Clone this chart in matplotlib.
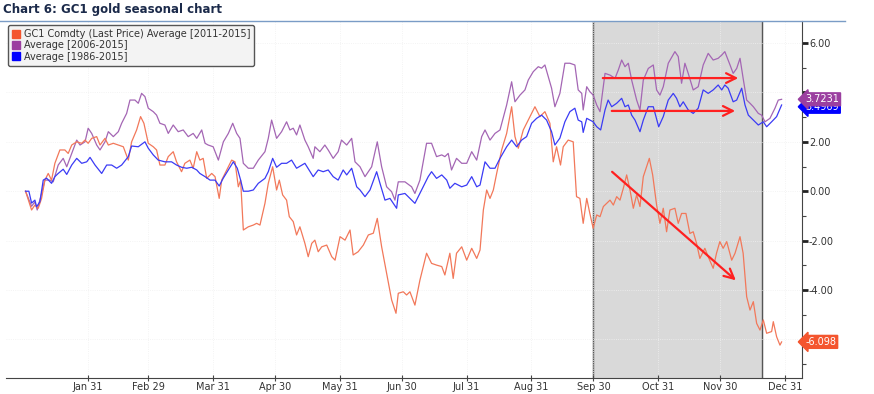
import matplotlib
matplotlib.use('Agg')
import matplotlib.pyplot as plt
from matplotlib.patches import Patch
from matplotlib.lines import Line2D

# --- data (day of year, 0 = Jan 1, leap year) ---
gc1_days = [0, 2.9, 4.5, 6.1, 7.7, 9.3, 10.9, 12.5, 14.1, 16.5, 18.9, 20.5, 22.2, 24.6, 27.0, 28.6, 30.1,
            31.8, 34.2, 35.8, 38.2, 39.8, 42.2, 44.6, 47.0, 49.4, 51.0, 53.4, 55.3, 56.9, 59.0, 61.4, 63.0,
            64.6, 67.0, 68.6, 71.0, 72.6, 75.0, 76.6, 79.0, 80.6, 82.3, 83.8, 85.4, 87.1, 89.5, 91.1, 93.1,
            94.3, 96.7, 99.1, 100.7, 102.3, 103.4, 104.7, 107.1, 109.5, 111.1, 112.7, 115.1, 116.7, 118.8,
            120.7, 122.0, 123.6, 125.5, 126.8, 128.7, 130.3, 131.9, 134.3, 135.9, 137.6, 139.1, 140.7, 142.4,
            144.8, 147.2, 148.8, 151.2, 153.6, 156.0, 157.5, 159.9, 162.4, 164.8, 167.2, 169.1, 171.2, 173.6,
            176.0, 178.1, 179.2, 181.6, 183.2, 184.8, 187.2, 189.6, 192.8, 195.2, 197.6, 200.1, 201.6, 204.0,
            205.6, 207.2, 209.7, 212.1, 214.5, 216.9, 218.5, 220.1, 221.7, 223.3, 224.9, 226.5, 228.9, 231.3,
            233.7, 235.3, 236.9, 239.3, 241.7, 244.9, 247.3, 249.7, 252.1, 253.7, 255.3, 257.2, 258.5, 260.9,
            263.3, 264.9, 266.5, 268.1, 269.8, 271.3, 272.9, 274.6, 276.2, 277.8, 279.4, 281.0, 282.6, 284.2,
            285.8, 287.4, 289.0, 290.6, 292.2, 293.8, 295.4, 297.0, 299.9, 301.5, 303.4, 305.0, 306.6, 308.2,
            309.8, 312.2, 313.8, 315.4, 317.5, 319.4, 321.0, 322.6, 324.2, 326.6, 328.2, 330.6, 332.2, 333.8,
            335.4, 337.1, 339.5, 341.1, 343.5, 345.0, 346.7, 348.3, 349.9, 351.5, 353.1, 354.7, 356.3, 358.7,
            359.5, 361.1, 362.7, 363.5]
gc1_vals = [0.00, -0.76, -0.56, -0.69, -0.29, 0.45, 0.72, 0.45, 1.13, 1.67, 1.67, 1.53, 1.87, 2.00, 1.94, 2.07,
            1.94, 2.14, 2.21, 1.87, 2.14, 1.87, 1.94, 1.87, 1.80, 1.26, 2.00, 2.48, 3.02, 2.75, 1.94, 1.80, 1.67,
            1.06, 1.06, 1.40, 1.60, 1.19, 0.79, 1.13, 1.26, 0.93, 1.60, 1.26, 1.33, 0.52, 0.72, 0.59, -0.29,
            0.45, 0.86, 1.26, 1.19, 0.18, 0.45, -1.57, -1.44, -1.37, -1.30, -1.37, -0.49, 0.32, 0.99,
            0.05, 0.45, -0.15, -0.36, -1.03, -1.23, -1.77, -1.44, -2.11, -2.65, -2.11, -1.98, -2.45, -2.25,
            -2.18, -2.65, -2.79, -1.84, -1.98, -1.57, -2.58, -2.45, -2.18, -1.77, -1.70, -1.10, -2.25, -3.32,
            -4.40, -4.94, -4.13, -4.07, -4.20, -4.07, -4.61, -3.60, -2.51, -2.92, -2.99, -3.05, -3.39, -2.51,
            -3.53, -2.51, -2.25, -2.79, -2.31, -2.72, -2.38, -0.76, 0.05, -0.29, 0.05, 0.72, 1.67, 2.34,
            3.42, 2.21, 1.74, 2.48, 2.88, 3.42, 3.02, 3.22, 2.75, 1.19, 1.80, 1.06, 1.80, 2.07,
            2.00, -0.22, -0.29, -1.30, -0.29, -0.90, -1.50, -0.96, -1.03, -0.62, -0.49, -0.36, -0.56, -0.22,
            -0.36, 0.12, 0.66, 0.05, -0.69, -0.15, -0.62, 0.59, 1.33, 0.66, -0.56, -1.30, -0.69, -1.64,
            -0.76, -0.69, -1.30, -0.90, -0.90, -1.71, -1.64, -2.11, -2.72, -2.31, -2.65, -3.12, -2.51, -2.04,
            -2.31, -2.04, -2.79, -2.51, -1.84, -2.51, -4.27, -4.81, -4.47, -5.35, -5.62, -5.21, -5.75, -5.68,
            -5.28, -5.89, -6.23, -6.10]

avg10_days = [0, 2.9, 4.5, 5.6, 7.7, 9.3, 11.7, 13.3, 15.7, 18.1, 19.8, 22.2, 24.6, 26.2, 28.6, 30.1, 31.8,
              34.2, 35.8, 38.2, 39.8, 42.2, 44.6, 46.2, 48.6, 50.2, 52.6, 54.2, 55.8, 57.4, 59.0, 61.4, 63.0,
              64.6, 67.0, 68.6, 71.0, 73.4, 75.8, 78.2, 80.6, 82.3, 84.7, 86.3, 87.8, 90.2, 92.7, 95.1, 97.5,
              99.6, 101.5, 103.1, 104.7, 107.1, 109.5, 111.9, 115.1, 116.7, 118.3, 120.7, 123.1, 125.5, 127.1,
              128.7, 130.3, 131.9, 134.3, 135.9, 138.3, 139.1, 141.5, 143.9, 145.5, 147.9, 150.3, 151.9, 154.4,
              156.8, 158.4, 160.8, 163.2, 166.4, 169.1, 171.2, 173.6, 176.0, 177.6, 179.2, 182.4, 185.6, 187.2,
              189.6, 192.8, 195.2, 197.6, 200.1, 201.6, 203.2, 204.8, 207.2, 209.7, 212.1, 214.5, 216.9, 219.3,
              220.9, 223.3, 225.7, 228.1, 231.3, 233.7, 235.3, 237.7, 240.1, 241.7, 244.1, 246.5, 248.1, 249.7,
              251.3, 252.9, 254.5, 256.9, 259.3, 261.7, 264.1, 265.7, 267.4, 268.1, 269.8, 271.3, 272.9, 274.6,
              276.2, 278.6, 281.0, 283.4, 285.0, 286.6, 288.2, 289.8, 291.4, 293.8, 295.4, 297.0, 299.4, 301.8,
              303.4, 305.0, 306.6, 309.0, 312.2, 313.8, 315.4, 317.0, 318.6, 321.0, 323.4, 325.8, 328.2, 330.6,
              333.0, 334.7, 336.2, 338.7, 340.2, 341.9, 343.5, 345.0, 346.7, 348.3, 349.9, 352.3, 353.9, 355.5,
              357.9, 360.3, 361.9, 363.5]
avg10_vals = [0.00, -0.61, -0.43, -0.76, -0.09, 0.45, 0.45, 0.38, 1.06, 1.33, 0.99, 1.53, 2.07, 1.87, 2.00, 2.55,
              2.34, 1.87, 1.67, 2.00, 2.41, 2.21, 2.41, 2.75, 3.15, 3.69, 3.69, 3.56, 3.96, 3.83, 3.36, 3.22, 3.08,
              2.75, 2.68, 2.34, 2.68, 2.41, 2.48, 2.21, 2.34, 2.14, 2.48, 1.94, 1.87, 1.80, 1.26, 2.00, 2.34,
              2.75, 2.34, 2.14, 1.13, 0.93, 0.93, 1.26, 1.60, 2.14, 2.88, 2.14, 2.41, 2.81, 2.48,
              2.55, 2.28, 2.68, 2.07, 1.80, 1.33, 1.80, 1.60, 1.87, 1.67, 1.33, 1.60, 2.07, 1.87,
              2.14, 1.19, 0.99, 0.59, 0.99, 2.00, 0.99, 0.18, -0.02, -0.36, 0.38, 0.38, 0.18, -0.09,
              0.45, 1.94, 1.94, 1.40, 1.47, 1.40, 1.53, 0.86, 1.33, 1.13, 1.13, 1.60, 1.26, 2.21,
              2.48, 2.07, 2.34, 2.48, 3.49, 4.43, 3.62, 3.89, 4.10, 4.50, 4.84, 5.04, 4.98, 5.11,
              4.64, 4.17, 3.42, 3.96, 5.18, 5.18, 5.11, 4.10, 3.96, 3.29, 4.23, 4.03, 3.89, 3.49,
              3.22, 4.77, 4.70, 4.57, 4.91, 5.31, 5.04, 5.18, 4.50, 3.69, 3.29, 4.50, 4.97, 5.11,
              4.10, 3.89, 4.23, 5.18, 5.65, 5.45, 4.37, 5.18, 4.77, 4.10, 4.23, 5.11, 5.58, 5.31,
              5.38, 5.51, 5.65, 5.11, 4.77, 4.97, 5.38, 4.57, 3.69, 3.56, 3.42, 3.15, 3.08, 2.81,
              2.95, 3.36, 3.69, 3.72]

avg30_days = [0, 1.6, 2.9, 4.5, 5.3, 6.9, 8.5, 10.1, 12.5, 14.1, 15.7, 18.1, 19.8, 22.2, 24.6, 27.0, 29.4,
              31.0, 33.4, 36.6, 39.0, 41.4, 43.8, 46.2, 49.4, 51.0, 54.2, 57.4, 59.0, 61.4, 63.8, 67.0, 70.2,
              72.6, 75.0, 77.5, 79.9, 82.3, 83.8, 86.3, 88.7, 91.1, 93.1, 95.0, 97.5, 99.9, 101.8, 103.4, 104.7,
              107.1, 109.5, 111.9, 115.1, 116.7, 118.8, 120.7, 123.1, 125.5, 127.9, 130.3, 134.3, 138.3, 140.7,
              143.1, 145.5, 147.9, 150.3, 152.7, 154.4, 156.8, 159.2, 160.8, 163.2, 165.6, 168.8, 170.4, 172.8,
              175.2, 178.4, 179.2, 182.4, 184.8, 187.2, 190.4, 193.6, 195.2, 197.6, 200.1, 202.5, 204.0, 206.4,
              209.7, 212.1, 214.5, 216.9, 218.5, 220.9, 223.3, 225.7, 228.1, 231.3, 233.7, 236.1, 238.5, 240.9,
              243.3, 245.7, 248.1, 250.5, 252.9, 254.5, 256.9, 259.3, 261.7, 264.1, 265.7, 267.4, 268.1, 269.8,
              272.9, 274.6, 276.5, 278.6, 280.1, 281.8, 284.2, 286.6, 288.2, 289.8, 291.4, 293.0, 295.4, 297.0,
              299.4, 301.8, 304.4, 306.6, 309.0, 311.4, 313.0, 314.6, 316.2, 318.6, 321.0, 323.4, 325.8, 328.2,
              330.6, 333.0, 334.7, 336.2, 337.8, 340.2, 341.9, 344.3, 345.9, 347.5, 349.9, 352.3, 354.7, 356.3,
              358.7, 361.1, 363.5]
avg30_vals = [0.00, 0.00, -0.48, -0.36, -0.63, -0.43, 0.45, 0.53, 0.32, 0.59, 0.72, 0.89, 0.68, 1.06, 1.33, 1.13,
              1.19, 1.37, 1.06, 0.72, 1.06, 1.06, 0.93, 1.06, 1.40, 1.83, 1.80, 2.00, 1.74, 1.47, 1.26, 1.19, 1.19,
              1.06, 0.97, 0.93, 0.97, 0.86, 0.72, 0.59, 0.45, 0.45, 0.21, 0.52, 0.86, 1.19, 0.93, 0.45, 0.00,
              0.00, 0.05, 0.32, 0.52, 0.79, 1.33, 0.97, 1.13, 1.13, 1.26, 0.93, 1.13, 0.59, 0.86,
              0.79, 0.86, 0.59, 0.45, 0.86, 0.66, 0.93, 0.18, 0.05, -0.22, 0.05, 0.79, 0.32, -0.36,
              -0.29, -0.69, -0.15, -0.09, -0.29, -0.49, 0.05, 0.59, 0.79, 0.52, 0.66, 0.45, 0.12, 0.32,
              0.18, 0.25, 0.59, 0.18, 0.25, 1.19, 0.93, 0.93, 1.33, 1.80, 2.07, 1.80, 2.07, 2.21,
              2.75, 2.95, 3.08, 2.88, 2.41, 1.87, 2.15, 2.81, 3.22, 3.36, 2.88, 2.81, 2.38, 2.95,
              2.81, 2.61, 2.48, 3.29, 3.69, 3.42, 3.56, 3.76, 3.42, 3.49, 3.08, 2.88, 2.41, 2.88,
              3.42, 3.42, 2.61, 3.02, 3.69, 3.96, 3.76, 3.42, 3.62, 3.29, 3.15, 3.36, 4.10, 3.96,
              4.10, 4.30, 4.10, 4.30, 4.17, 3.62, 3.69, 4.17, 3.49, 3.08, 2.88, 2.68, 2.81, 2.61,
              2.81, 3.02, 3.49]

month_ticks = [30, 59, 90, 120, 151, 181, 212, 243, 273, 304, 334, 365]
month_labels = ['Jan 31', 'Feb 29', 'Mar 31', 'Apr 30', 'May 31', 'Jun 30',
                'Jul 31', 'Aug 31', 'Sep 30', 'Oct 31', 'Nov 30', 'Dec 31']

y_ticks = [-6, -4, -2, 0, 2, 4, 6]
# -6.00 and 4.00 sit under the last-value tags in the original
y_labels = ['', '-4.00', '-2.00', '0.00', '2.00', '', '6.00']

shade_start, shade_end = 273, 354

series_names = ['GC1 Comdty (Last Price) Average [2011-2015]', 'Average [2006-2015]', 'Average [1986-2015]']
line_colors = ['#f2785a', '#a466b4', '#3b3bf5']
box_colors = ['#f4552e', '#9b3fa0', '#0000ff']
last_labels = ['-6.098', '3.7231', '3.4969']
tag_pos = [-6.098, 3.72, 3.42]

plt.rcParams['font.family'] = ['DejaVu Sans']

fig = plt.figure(figsize=(8.74, 3.94), dpi=100)
ax = fig.add_axes([6 / 874, 16 / 394, 796 / 874, 357 / 394])

# shaded period
ax.axvspan(shade_start, shade_end, color='#d9d9d9', zorder=0)
ax.axvline(shade_start, color='#555555', lw=1, zorder=1)
ax.axvline(shade_end, color='#555555', lw=1, zorder=1)

ax.plot(avg10_days, avg10_vals, color=line_colors[1], lw=0.9, zorder=3)
ax.plot(avg30_days, avg30_vals, color=line_colors[2], lw=0.9, zorder=4)
ax.plot(gc1_days, gc1_vals, color=line_colors[0], lw=0.9, zorder=3)

ax.set_xlim(-9.4, 373.3)
ax.set_ylim(-7.56, 6.89)

# red trend arrows
arrow_kw = dict(arrowstyle='->,head_length=0.7,head_width=0.35', color='#ff2020', lw=1.6)
ax.annotate('', xy=(344, 4.58), xytext=(276.2, 4.58), arrowprops=arrow_kw, zorder=6)
ax.annotate('', xy=(342.5, 3.25), xytext=(280.5, 3.25), arrowprops=arrow_kw, zorder=6)
ax.annotate('', xy=(342.5, -3.68), xytext=(281, 0.86), arrowprops=arrow_kw, zorder=6)

# axes styling
for side in ['top', 'left']:
    ax.spines[side].set_visible(False)
ax.spines['bottom'].set_color('#444444')
ax.spines['right'].set_color('#444444')

ax.set_xticks(month_ticks)
ax.set_xticklabels(month_labels)
ax.tick_params(axis='x', direction='inout', length=4, width=0.8, colors='#444444',
               labelsize=7, labelcolor='#333333', pad=1)

ax.yaxis.tick_right()
ax.set_yticks(y_ticks)
ax.set_yticks([-7, -5, -3, -1, 1, 3, 5], minor=True)
ax.set_yticklabels(y_labels)
ax.tick_params(axis='y', which='major', direction='out', length=4, width=2, colors='#222222',
               labelsize=7, labelcolor='#333333', pad=1)
ax.tick_params(axis='y', which='minor', direction='out', length=3, width=0.8, colors='#444444')

ax.grid(True, which='major', color='#f0f0f0', lw=0.6, ls=':')

# last value tags on the right; purple drawn last so it covers most of the blue one
tag_z = {0: 10, 2: 11, 1: 12}
for i in [0, 2, 1]:
    ax.text(1.004, tag_pos[i], last_labels[i],
            transform=ax.get_yaxis_transform(), fontsize=7, color='white',
            va='center', ha='left', zorder=tag_z[i], clip_on=False,
            bbox=dict(boxstyle='larrow,pad=0.15', fc=box_colors[i], ec=box_colors[i]))

# legend
handles = [Patch(facecolor=c, edgecolor=c) for c in box_colors]
leg = ax.legend(handles, series_names, loc='upper left', bbox_to_anchor=(2 / 796, 353 / 357),
                fontsize=7, frameon=True, fancybox=True, handlelength=0.8, handleheight=0.9,
                handletextpad=0.4, labelspacing=0.15, borderpad=0.4, borderaxespad=0)
leg.get_frame().set_facecolor('#f3f3f3')
leg.get_frame().set_edgecolor('#555555')
leg.get_frame().set_linewidth(1.0)
leg.get_frame().set_alpha(1)
for t in leg.get_texts():
    t.set_color('#333333')
leg.set_zorder(8)

# title and underline
fig.text(3 / 874, 1 - 10 / 394, 'Chart 6: GC1 gold seasonal chart', fontsize=8.5, fontweight='bold',
         color='#1b2a4a', va='center', ha='left')
fig.add_artist(Line2D([0, 845 / 874], [1 - 20.7 / 394, 1 - 20.7 / 394], color='#7a9cc6', lw=1))

fig.savefig('out.png', dpi=100)
